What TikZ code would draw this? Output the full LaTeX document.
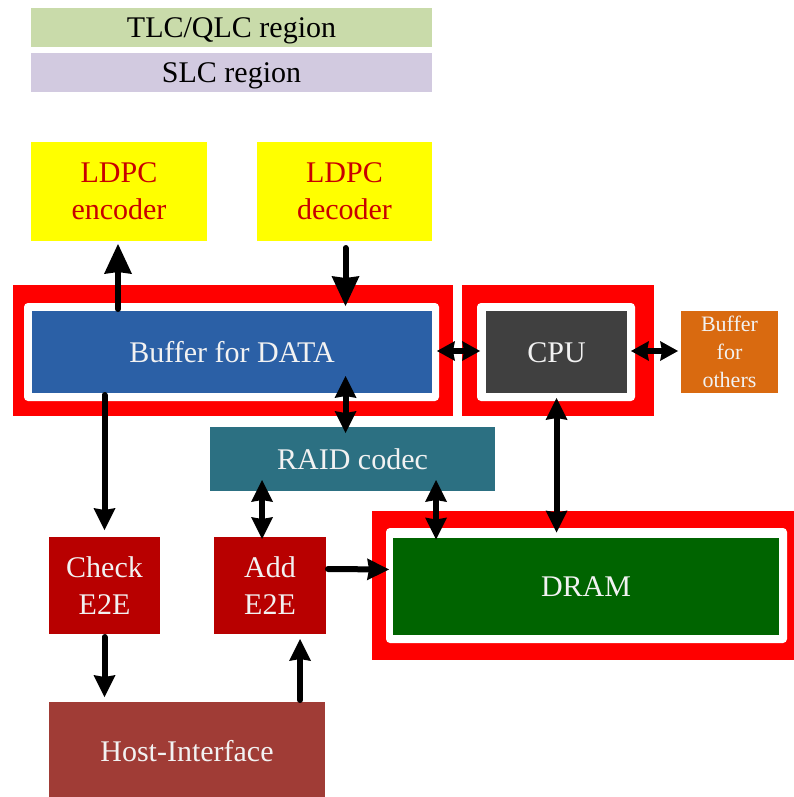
\documentclass[tikz,border=0pt]{standalone}
\usepackage{fontspec}
\setmainfont{Liberation Serif}
\usetikzlibrary{arrows.meta,calc}

\definecolor{tlcgreen}{RGB}{201,219,170}
\definecolor{slcpurple}{RGB}{210,202,224}
\definecolor{ldpcyellow}{RGB}{255,255,0}
\definecolor{ldpctext}{RGB}{200,0,0}
\definecolor{bufblue}{RGB}{43,96,166}
\definecolor{cpugray}{RGB}{64,64,64}
\definecolor{othorange}{RGB}{217,106,16}
\definecolor{raidteal}{RGB}{44,112,130}
\definecolor{etoered}{RGB}{184,0,0}
\definecolor{hostbrown}{RGB}{160,60,54}
\definecolor{dramgreen}{RGB}{0,100,0}
\definecolor{framered}{RGB}{255,0,0}
\definecolor{txtwhite}{RGB}{242,242,242}

\begin{document}
\begin{tikzpicture}[x=1pt,y=-1pt,
  blk/.style={rectangle, inner sep=0pt, outer sep=0pt, align=center,
    text=txtwhite, font=\fontsize{30}{37}\selectfont},
  oneline/.style={text height=21pt, text depth=0pt},
  frame/.style={rectangle, fill=framered, inner sep=0pt, outer sep=0pt},
  pad/.style={rectangle, fill=white, rounded corners=4pt, inner sep=0pt, outer sep=0pt},
  arr/.style={line width=6pt, line cap=round, black,
    >={Stealth[length=22pt,width=22pt,inset=2pt,line width=0pt]}},
  shortarr/.style={arr, >={Stealth[length=18pt,width=20pt,inset=2pt,line width=0pt]}},
  bigarr/.style={arr, >={Stealth[length=30pt,width=28pt,inset=2pt,line width=0pt]}}
]
\useasboundingbox (0,0) rectangle (794,797);

% flash regions
\node[blk, oneline, fill=tlcgreen, text=black, minimum width=401pt, minimum height=39pt] (tlc) at (231.5,27.5) {TLC/QLC region};
\node[blk, oneline, fill=slcpurple, text=black, minimum width=401pt, minimum height=39pt] (slc) at (231.5,72.5) {SLC region};

% LDPC engines
\node[blk, fill=ldpcyellow, text=ldpctext, minimum width=176pt, minimum height=99pt] (enc) at (119,191.5) {LDPC\\encoder};
\node[blk, fill=ldpcyellow, text=ldpctext, minimum width=175pt, minimum height=99pt] (dec) at (344.5,191.5) {LDPC\\decoder};

% highlighted frames
\node[frame, minimum width=440pt, minimum height=131pt] (bufframe) at (233,350.5) {};
\node[pad, minimum width=415pt, minimum height=98pt] (bufpad) at (231.5,352) {};
\node[frame, minimum width=192pt, minimum height=131pt] (cpuframe) at (558,350.5) {};
\node[pad, minimum width=158pt, minimum height=98pt] (cpupad) at (556,352) {};
\node[frame, minimum width=424pt, minimum height=149pt] (dramframe) at (584,585.5) {};
\node[pad, minimum width=401pt, minimum height=115pt] (drampad) at (586.5,585.5) {};

% blocks
\node[blk, oneline, fill=bufblue, minimum width=400pt, minimum height=82pt] (buf) at (232,352) {Buffer for DATA};
\node[blk, oneline, fill=cpugray, minimum width=141pt, minimum height=82pt] (cpu) at (556.5,352) {CPU};
\node[blk, fill=othorange, minimum width=97pt, minimum height=82pt,
  font=\fontsize{22}{28}\selectfont] (oth) at (729.5,352) {Buffer\\for\\others};
\node[blk, oneline, fill=raidteal, minimum width=285pt, minimum height=64pt] (raid) at (352.5,459) {RAID codec};
\node[blk, oneline, fill=dramgreen, minimum width=386pt, minimum height=97pt] (dram) at (586,586) {DRAM};
\node[blk, fill=etoered, minimum width=111pt, minimum height=97pt] (chk) at (104.5,585.5) {Check\\E2E};
\node[blk, fill=etoered, minimum width=112pt, minimum height=97pt] (add) at (270,585.5) {Add\\E2E};
\node[blk, oneline, fill=hostbrown, minimum width=276pt, minimum height=98pt] (host) at (187,751) {Host-Interface};

% data paths
\draw[bigarr, ->] ($(buf.north -| enc.south)+(-1,-2)$) -- ($(enc.south)+(-1,3)$);
\draw[bigarr, ->] ($(dec.south)+(1,7)$) -- ($(buf.north -| dec.south)+(1,-5)$);
\draw[shortarr, <->] ($(buf.east)+(5,-1)$) -- ($(cpu.west)+(-6,-1)$);
\draw[shortarr, <->] ($(cpu.east)+(4,-1)$) -- ($(oth.west)+(-3,-1)$);
\draw[arr, <->] ($(buf.south -| dec.south)+(1,-17)$) -- ($(raid.north -| dec.south)+(1,6)$);
\draw[arr, ->] ($(buf.south -| chk.north)+(0,2)$) -- ($(chk.north)+(0,-7)$);
\draw[arr, <->] ($(raid.south west)+(52,-11)$) -- ($(add.north west)+(48,2)$);
\draw[arr, <->] ($(raid.south east)+(-59,-11)$) -- ($(dram.north west)+(43,2)$);
\draw[arr, <->] ($(cpu.south)+(0,5)$) -- ($(dram.north -| cpu.south)+(0,-5)$);
\draw[arr, ->] ($(add.east)+(2,-16.5)$) -- ($(dram.west)+(-4,-16.5)$);
\draw[arr, ->] ($(chk.south)+(0,3)$) -- ($(host.north -| chk.south)+(0,-5)$);
\draw[arr, ->] ($(host.north east)+(-25,-2)$) -- ($(add.south west)+(86,5)$);
\end{tikzpicture}
\end{document}
